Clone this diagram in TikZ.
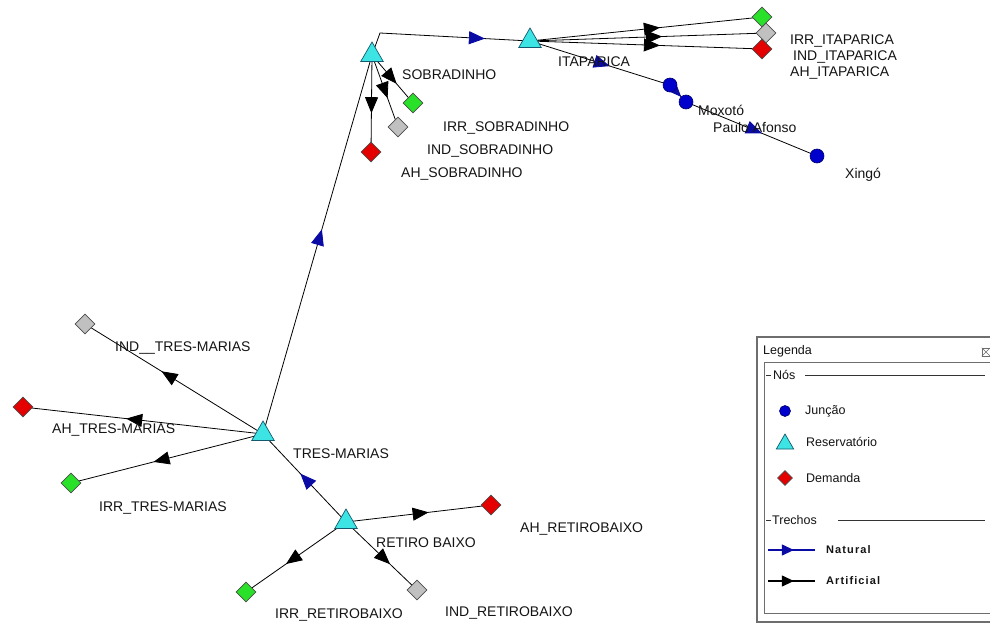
\documentclass[tikz,border=0pt]{standalone}
\usepackage{fontspec}
\setmainfont{Liberation Sans}
\newfontfamily\legfont[LetterSpace=10]{Liberation Sans}
\usetikzlibrary{shapes.geometric,arrows.meta,decorations.markings,backgrounds}
\definecolor{cyanfill}{RGB}{60,228,228}
\definecolor{cyanedge}{RGB}{20,90,110}
\definecolor{navy}{RGB}{10,10,165}
\definecolor{juncfill}{RGB}{0,0,205}
\definecolor{juncedge}{RGB}{0,0,110}
\definecolor{dgreen}{RGB}{40,225,40}
\definecolor{dgray}{RGB}{192,192,192}
\definecolor{dred}{RGB}{228,0,0}
\definecolor{txt}{RGB}{20,20,20}
\definecolor{frame}{RGB}{110,110,110}
\begin{document}
\begin{tikzpicture}[x=1pt,y=-1pt,
  res/.style={regular polygon,regular polygon sides=3,minimum size=26pt,inner sep=0pt,fill=cyanfill,draw=cyanedge,line width=0.7pt},
  dem/.style={diamond,minimum width=20pt,minimum height=20pt,inner sep=0pt,draw=black!70,line width=0.6pt,fill=#1},
  junc/.style={circle,minimum size=14pt,inner sep=0pt,fill=juncfill,draw=juncedge,line width=0.6pt},
  lab/.style={font=\fontsize{14}{16}\selectfont,text=txt,anchor=west,inner sep=0pt},
  leg/.style={font=\fontsize{12.5}{14}\selectfont,text=txt,anchor=west,inner sep=0pt},
  legb/.style={font=\legfont\bfseries\fontsize{11}{13}\selectfont,text=txt,anchor=west,inner sep=0pt},
  nat/.style={draw=black,line width=0.8pt,postaction={decorate},
    decoration={markings,mark=at position #1 with {\arrow[navy]{Triangle[length=16pt,width=13pt]}}}},
  nat/.default=0.55,
  art/.style={draw=black,line width=0.8pt,postaction={decorate},
    decoration={markings,mark=at position #1 with {\arrow[black]{Triangle[length=16pt,width=13pt]}}}},
  art/.default=0.57,
  legline/.style={draw=navy,line width=1.2pt,postaction={decorate},
    decoration={markings,mark=at position 0.55 with {\arrow[navy]{Triangle[length=12pt,width=11pt]}}}},
  leglineb/.style={draw=black,line width=1.2pt,postaction={decorate},
    decoration={markings,mark=at position 0.55 with {\arrow[black]{Triangle[length=12pt,width=11pt]}}}}
]
\useasboundingbox (0,0) rectangle (990,624);

% ---------- nodes ----------
\node[res] (sob) at (372,55) {};
\node[res] (ita) at (530,41) {};
\node[res] (tm) at (263,434) {};
\node[res] (rb) at (346,522) {};
\coordinate (bend) at (380,33);

\node[dem=dgreen] (sobirr) at (413,103) {};
\node[dem=dgray]  (sobind) at (398,127) {};
\node[dem=dred]   (sobah)  at (371,152) {};

\node[dem=dgreen] (itairr) at (762,17) {};
\node[dem=dgray]  (itaind) at (766,33) {};
\node[dem=dred]   (itaah)  at (762,49) {};

\node[junc] (j1) at (670,85) {};
\node[junc] (j2) at (686,102) {};
\node[junc] (xin) at (817,156) {};

\node[dem=dgray]  (tmind) at (85,324) {};
\node[dem=dred]   (tmah)  at (23,407) {};
\node[dem=dgreen] (tmirr) at (71,483) {};

\node[dem=dred]   (rbah)  at (491,505) {};
\node[dem=dgreen] (rbirr) at (246,592) {};
\node[dem=dgray]  (rbind) at (417,590) {};

% ---------- links ----------
\begin{scope}[on background layer]
\draw[nat=0.54] (tm.center) -- (sob.center);
\draw[nat=0.74] (sob.center) -- (bend) -- (ita.center);
\draw[nat=0.55] (rb.center) -- (tm.center);
\draw[nat=0.57] (ita.center) -- (j1.center);
\draw[nat=0.7] (j1.center) -- (j2.center);
\draw[nat=0.58] (j2.center) -- (xin.center);

\draw[art=0.6] (sob.center) -- (sobirr.center);
\draw[art=0.6] (sob.center) -- (sobind.center);
\draw[art=0.6] (sob.center) -- (sobah.center);

\draw[art=0.56] (ita.center) -- (itairr.center);
\draw[art=0.56] (ita.center) -- (itaind.center);
\draw[art=0.56] (ita.center) -- (itaah.center);

\draw[art] (tm.center) -- (tmind.center);
\draw[art] (tm.center) -- (tmah.center);
\draw[art] (tm.center) -- (tmirr.center);

\draw[art] (rb.center) -- (rbah.center);
\draw[art=0.6] (rb.center) -- (rbirr.center);
\draw[art=0.62] (rb.center) -- (rbind.center);
\end{scope}

% ---------- labels ----------
\node[lab] (lsob) at (402,75) {SOBRADINHO};
\node[lab] (lsobirr) at (443,128) {IRR\_SOBRADINHO};
\node[lab] (lsobind) at (427,151) {IND\_SOBRADINHO};
\node[lab] (lsobah) at (401,174) {AH\_SOBRADINHO};
\node[lab] (lita) at (558,62) {ITAPARICA};
\node[lab] (litairr) at (790,41) {IRR\_ITAPARICA};
\node[lab] (litaind) at (793,57) {IND\_ITAPARICA};
\node[lab] (litaah) at (790,73) {AH\_ITAPARICA};
\node[lab] (lj1) at (698,110) {Moxotó};
\node[lab] (lj2) at (713,127) {Paulo Afonso};
\node[lab] (lxin) at (845,175) {Xingó};
\node[lab] (ltmind) at (115,348) {IND\_\_TRES-MARIAS};
\node[lab] (ltmah) at (52,430) {AH\_TRES-MARIAS};
\node[lab] (ltmirr) at (99,508) {IRR\_TRES-MARIAS};
\node[lab] (ltm) at (293,454) {TRES-MARIAS};
\node[lab] (lrb) at (376,543) {RETIRO BAIXO};
\node[lab] (lrbah) at (520,529) {AH\_RETIROBAIXO};
\node[lab] (lrbirr) at (275,615) {IRR\_RETIROBAIXO};
\node[lab] (lrbind) at (445,613) {IND\_RETIROBAIXO};

% ---------- legend ----------
\fill[white] (757,337) rectangle (990,622);
\draw[frame,line width=1.5pt] (990,337) -- (757,337) -- (757,622) -- (990,622);
\draw[frame,line width=1pt] (990,362) -- (764,362) -- (764,613) -- (990,613);
\node[leg] (legtitle) at (763,351) {Legenda};
\node[draw=frame,line width=0.6pt,minimum size=8pt,inner sep=0pt] (legclose) at (986,352) {};
\draw[frame,line width=0.5pt] (legclose.north west) -- (legclose.south east) (legclose.north east) -- (legclose.south west);

\draw[black!80,line width=1pt] (766,375) -- (771,375);
\node[leg] (gnos) at (773,375) {Nós};
\draw[black!80,line width=1pt] (805,375) -- (985,375);

\node[junc,minimum size=11pt] (kjunc) at (785,411) {};
\node[leg] (tjunc) at (805,411) {Junção};
\node[res,minimum size=20pt] (kres) at (785,444) {};
\node[leg] (tres) at (806,442) {Reservatório};
\node[dem=dred,minimum width=15pt,minimum height=15pt] (kdem) at (785,478) {};
\node[leg] (tdem) at (806,478) {Demanda};

\draw[black!80,line width=1pt] (766,520) -- (771,520);
\node[leg] (gtre) at (772,520) {Trechos};
\draw[black!80,line width=1pt] (838,520) -- (985,520);

\coordinate (n1) at (768,550);
\coordinate (n2) at (815,550);
\draw[legline] (n1) -- (n2);
\node[legb] (tnat) at (826,550) {Natural};
\coordinate (a1) at (768,581);
\coordinate (a2) at (815,581);
\draw[leglineb] (a1) -- (a2);
\node[legb] (tart) at (826,581) {Artificial};
\end{tikzpicture}
\end{document}
